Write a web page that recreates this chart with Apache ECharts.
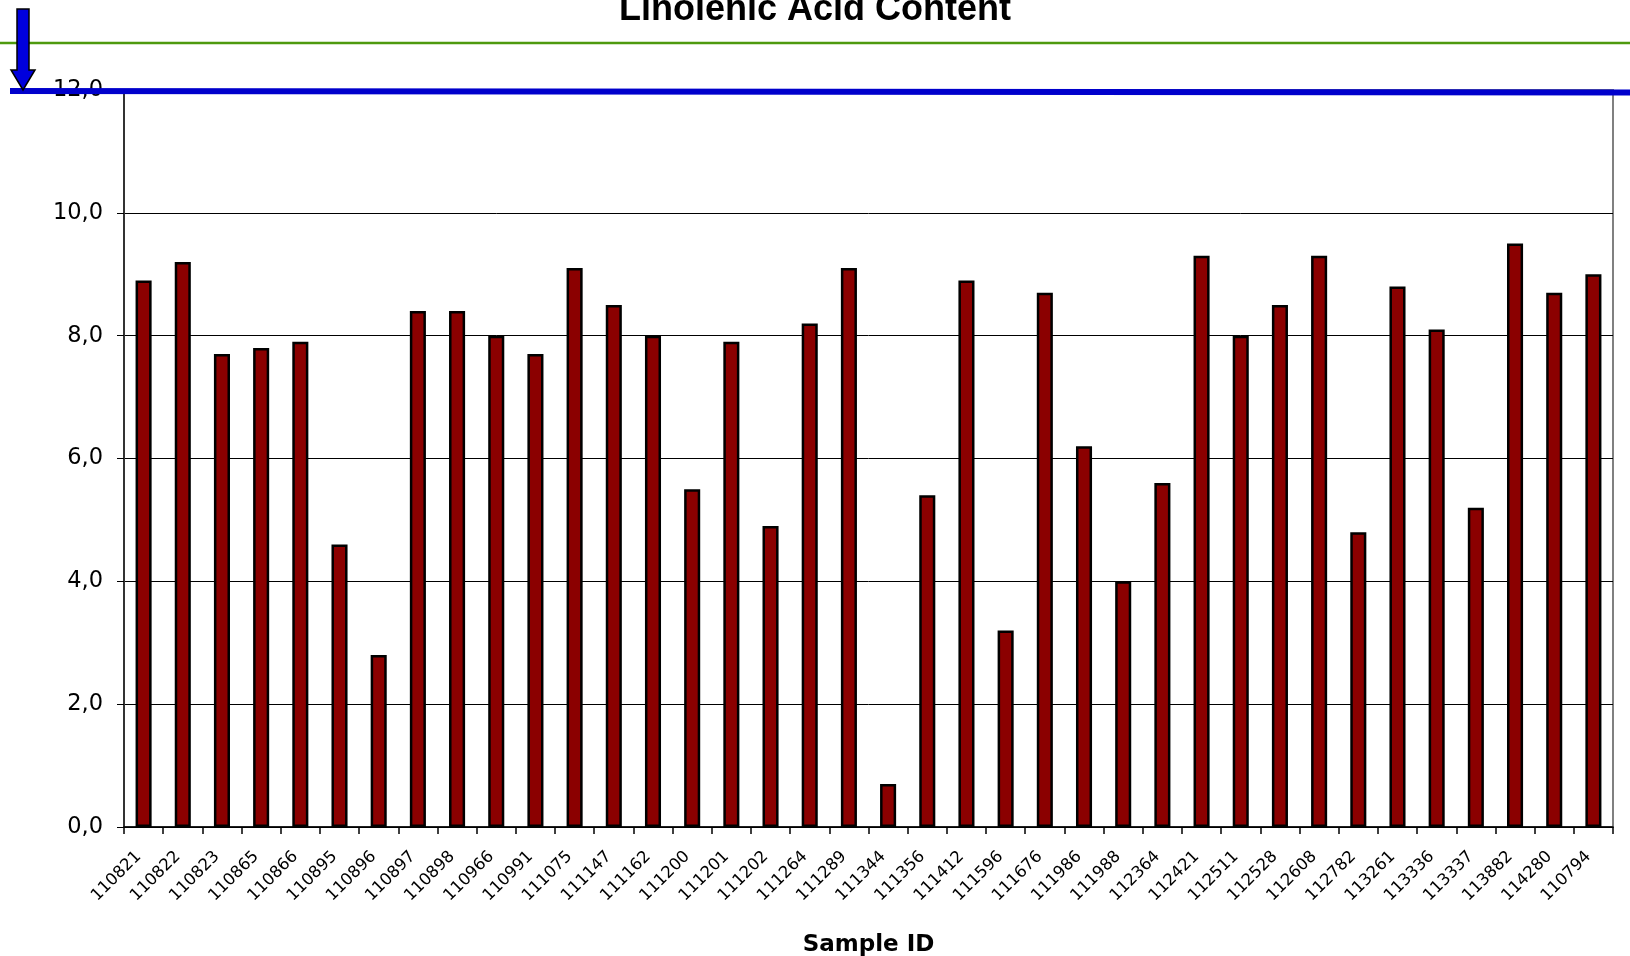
<!DOCTYPE html>
<html>
<head>
<meta charset="utf-8">
<title>Linolenic Acid Content</title>
<script src="https://cdn.jsdelivr.net/npm/echarts@6/dist/echarts.min.js"></script>
<style>
  html, body { margin: 0; padding: 0; background: #fff; }
  #chart { width: 1630px; height: 956px; }
</style>
</head>
<body>
<div id="chart"></div>
<script>
// sample ids along the x axis
const sampleIds = [
  '110821', '110822', '110823', '110865', '110866', '110895', '110896', '110897',
  '110898', '110966', '110991', '111075', '111147', '111162', '111200', '111201',
  '111202', '111264', '111289', '111344', '111356', '111412', '111596', '111676',
  '111986', '111988', '112364', '112421', '112511', '112528', '112608', '112782',
  '113261', '113336', '113337', '113882', '114280', '110794'
]

// linolenic acid content
const linolenic = [
  8.9, 9.2, 7.7, 7.8, 7.9, 4.6, 2.8, 8.4,
  8.4, 8.0, 7.7, 9.1, 8.5, 8.0, 5.5, 7.9,
  4.9, 8.2, 9.1, 0.7, 5.4, 8.9, 3.2, 8.7,
  6.2, 4.0, 5.6, 9.3, 8.0, 8.5, 9.3, 4.8,
  8.8, 8.1, 5.2, 9.5, 8.7, 9.0
]

const yMin = 0
const yMax = 12
const yStep = 2

let myChart = echarts.init(document.getElementById('chart'))
let option = {
  animation: false,
  backgroundColor: '#fff',
  title: {
    text: 'Linolenic Acid Content',
    left: 'center',
    top: -13,
    textStyle: {
      fontFamily: 'Liberation Sans',
      fontSize: 36,
      fontWeight: 'bold',
      color: '#000',
    },
  },
  grid: {
    left: 124,
    right: 17,
    top: 90,
    bottom: 129,
    containLabel: false,
    outerBoundsMode: 'none',
    show: true,
    borderColor: '#808080',
    borderWidth: 2,
    backgroundColor: 'transparent',
  },
  xAxis: {
    type: 'category',
    data: sampleIds,
    name: 'Sample ID',
    nameLocation: 'middle',
    nameGap: 107,
    nameTextStyle: {
      fontFamily: 'DejaVu Sans',
      fontSize: 23,
      fontWeight: 'bold',
      color: '#000',
    },
    axisLine: { lineStyle: { color: '#000', width: 1.5 } },
    axisTick: { show: true, length: 7, lineStyle: { color: '#000', width: 1.5 } },
    axisLabel: {
      interval: 0,
      rotate: 45,
      margin: 22,
      padding: [0, 7, 0, 0],
      fontFamily: 'DejaVu Sans',
      fontSize: 16.5,
      color: '#000',
    },
  },
  yAxis: {
    type: 'value',
    min: yMin,
    max: yMax,
    interval: yStep,
    axisLine: { show: true, lineStyle: { color: '#333', width: 2 } },
    axisTick: { show: true, length: 7, lineStyle: { color: '#000', width: 1 } },
    axisLabel: {
      margin: 21,
      fontFamily: 'DejaVu Sans',
      fontSize: 22.5,
      color: '#000',
      formatter: v => v.toFixed(1).replace('.', ','),
    },
    splitLine: { lineStyle: { color: '#000', width: 1 } },
  },
  series: [
    {
      name: 'Linolenic Acid',
      type: 'bar',
      data: linolenic,
      barWidth: '41%',
      itemStyle: {
        color: '#8b0000',
        borderColor: '#000',
        borderWidth: 2.5,
      },
    },
  ],
  graphic: [
    // green rule under the title
    {
      type: 'line',
      shape: { x1: 0, y1: 43, x2: 1630, y2: 43 },
      style: { stroke: '#4e9a0e', lineWidth: 2.5 },
      z: 100,
    },
    // blue marker line across the top
    {
      type: 'line',
      shape: { x1: 10, y1: 91, x2: 1630, y2: 92.5 },
      style: { stroke: '#0000cc', lineWidth: 6 },
      z: 100,
    },
    // down arrow in the corner
    {
      type: 'polygon',
      shape: {
        points: [[17, 9], [29, 9], [29, 70], [35, 70], [23, 90], [11, 70], [17, 70]],
      },
      style: { fill: '#0000dd', stroke: '#000', lineWidth: 1.5 },
      z: 101,
    },
  ],
}

option && myChart.setOption(option)
</script>
</body>
</html>
